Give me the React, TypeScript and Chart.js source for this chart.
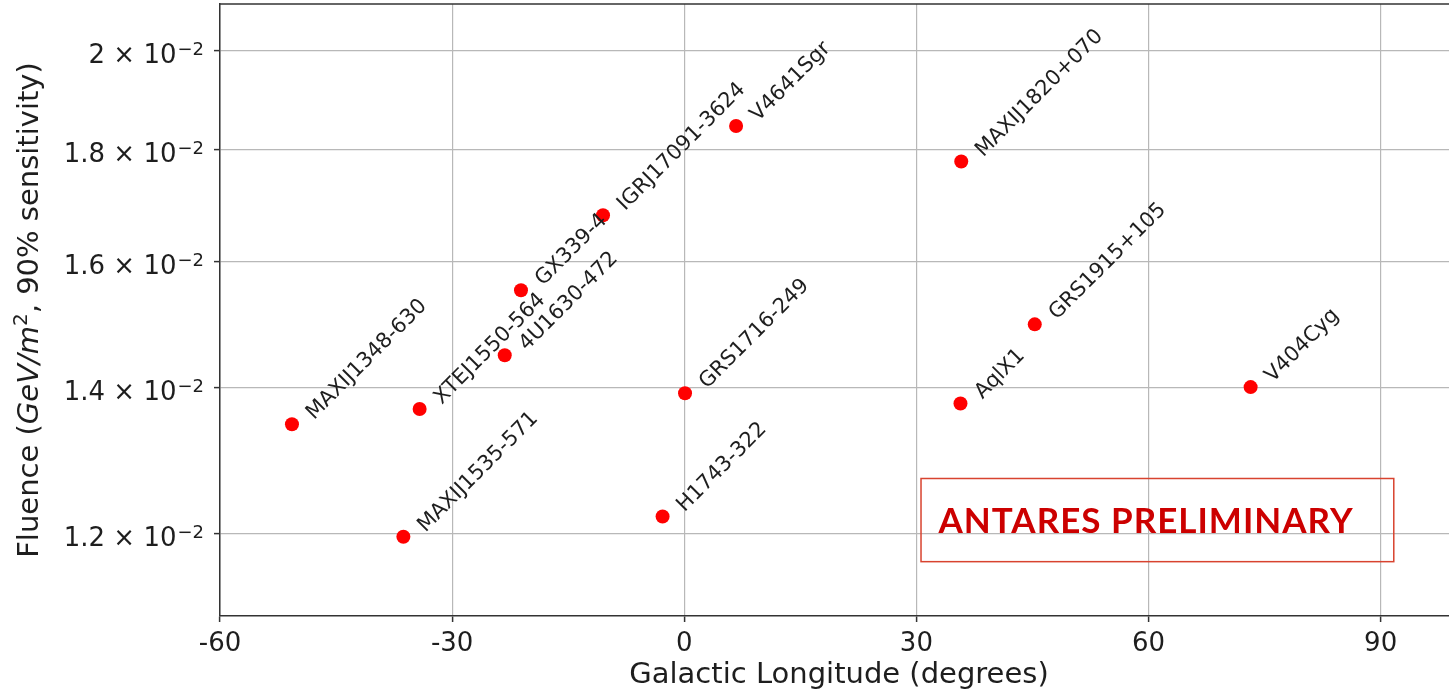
import React, { useEffect, useRef } from "react";
import { Chart, registerables } from "chart.js";

Chart.register(...registerables);

// X-ray binary sources: galactic longitude (deg) and 90% sensitivity fluence (GeV/m^2)
const sources = [
  "MAXIJ1348-630",
  "XTEJ1550-564",
  "MAXIJ1535-571",
  "4U1630-472",
  "GX339-4",
  "IGRJ17091-3624",
  "V4641Sgr",
  "GRS1716-249",
  "H1743-322",
  "MAXIJ1820+070",
  "AqlX1",
  "GRS1915+105",
  "V404Cyg",
];
const longitudes = [-50.7, -34.2, -36.3, -23.2, -21.1, -10.5, 6.7, 0.1, -2.8, 35.8, 35.7, 45.3, 73.2];
const fluences = [0.01347, 0.01369, 0.01196, 0.01449, 0.01552, 0.0168, 0.01846, 0.01392, 0.01222, 0.01778, 0.01377, 0.01497, 0.01401];

const xTicks = [-60, -30, 0, 30, 60, 90];
const yTicks = [0.012, 0.014, 0.016, 0.018, 0.02];
// mantissa part and exponent part of each y tick label
const yTickMantissas = ["1.2 × 10", "1.4 × 10", "1.6 × 10", "1.8 × 10", "2 × 10"];
const yTickExponents = ["−2", "−2", "−2", "−2", "−2"];

const FONT = "'DejaVu Sans'";
const INK = "#1e1e1e";
const SPINE = "#333333";

// Rotated name next to each source marker
const sourceLabels = {
  id: "sourceLabels",
  afterDatasetsDraw(chart: any) {
    const { ctx } = chart;
    const meta = chart.getDatasetMeta(0);
    ctx.save();
    ctx.font = `21px ${FONT}`;
    ctx.fillStyle = INK;
    ctx.textBaseline = "alphabetic";
    ctx.textAlign = "left";
    meta.data.forEach((pt: any, i: number) => {
      ctx.save();
      ctx.translate(pt.x + 22, pt.y - 4);
      ctx.rotate(-Math.PI / 4);
      ctx.fillText(sources[i], 0, 0);
      ctx.restore();
    });
    ctx.restore();
  },
};

// y tick labels with a raised exponent
const yTickText = {
  id: "yTickText",
  afterDraw(chart: any) {
    const { ctx } = chart;
    const s = chart.scales.y;
    const right = s.right - 16;
    ctx.save();
    ctx.fillStyle = INK;
    ctx.textBaseline = "alphabetic";
    ctx.textAlign = "left";
    yTicks.forEach((v, i) => {
      const y = s.getPixelForValue(v);
      ctx.font = `18px ${FONT}`;
      const wSup = ctx.measureText(yTickExponents[i]).width;
      ctx.font = `26px ${FONT}`;
      const wMain = ctx.measureText(yTickMantissas[i]).width;
      ctx.fillText(yTickMantissas[i], right - wSup - wMain - 1, y + 12.5);
      ctx.font = `18px ${FONT}`;
      ctx.fillText(yTickExponents[i], right - wSup, y + 4.5);
    });
    ctx.restore();
  },
};

// Top spine, y-axis title with italic units, and the preliminary stamp
const decorations = {
  id: "decorations",
  afterDraw(chart: any) {
    const { ctx, chartArea, scales } = chart;
    ctx.save();

    // top spine
    ctx.strokeStyle = SPINE;
    ctx.lineWidth = 1.5;
    ctx.beginPath();
    ctx.moveTo(chartArea.left, chartArea.top);
    ctx.lineTo(chartArea.right, chartArea.top);
    ctx.stroke();

    // y-axis title
    const segs = [
      { t: "Fluence (", f: `29px ${FONT}`, dy: 0 },
      { t: "GeV/m", f: `italic 29px ${FONT}`, dy: 0 },
      { t: "2", f: `20px ${FONT}`, dy: -11 },
      { t: ", 90% sensitivity)", f: `29px ${FONT}`, dy: 0 },
    ];
    let total = 0;
    const widths = segs.map((s) => {
      ctx.font = s.f;
      const w = ctx.measureText(s.t).width;
      total += w;
      return w;
    });
    ctx.save();
    ctx.translate(38, (chartArea.top + chartArea.bottom) / 2);
    ctx.rotate(-Math.PI / 2);
    ctx.fillStyle = INK;
    ctx.textBaseline = "alphabetic";
    let cx = -total / 2;
    segs.forEach((s, i) => {
      ctx.font = s.f;
      ctx.fillText(s.t, cx, s.dy);
      cx += widths[i];
    });
    ctx.restore();

    // ANTARES PRELIMINARY stamp
    const x0 = scales.x.getPixelForValue(30.6);
    const x1 = scales.x.getPixelForValue(91.7);
    const y0 = scales.y.getPixelForValue(0.01272);
    const y1 = scales.y.getPixelForValue(0.01165);
    ctx.strokeStyle = "#d8432f";
    ctx.lineWidth = 1.5;
    ctx.strokeRect(x0, y0, x1 - x0, y1 - y0);
    ctx.fillStyle = "#cc0000";
    ctx.font = `bold 35px Lato`;
    (ctx as any).letterSpacing = "1px";
    ctx.textBaseline = "alphabetic";
    ctx.textAlign = "left";
    ctx.fillText("ANTARES PRELIMINARY", x0 + 17.5, (y0 + y1) / 2 + 12.5);

    ctx.restore();
  },
};

export default function App() {
  const canvasRef = useRef<HTMLCanvasElement | null>(null);

  useEffect(() => {
    const canvas = canvasRef.current;
    if (!canvas) return;
    const chart = new Chart(canvas, {
      type: "scatter",
      data: {
        datasets: [
          {
            data: longitudes.map((x, i) => ({ x, y: fluences[i] })),
            backgroundColor: "#ff0000",
            borderWidth: 0,
            pointRadius: 7,
            pointHoverRadius: 7,
          },
        ],
      },
      options: {
        animation: false,
        responsive: false,
        devicePixelRatio: 1,
        events: [],
        layout: { autoPadding: false, padding: { top: 4, left: 0, right: 0, bottom: 0 } },
        plugins: {
          legend: { display: false },
          tooltip: { enabled: false },
        },
        scales: {
          x: {
            type: "linear",
            min: -60,
            max: 100,
            afterBuildTicks: (s: any) => {
              s.ticks = xTicks.map((v) => ({ value: v }));
            },
            afterFit: (s: any) => {
              s.height = 78;
              s.paddingLeft = 0;
              s.paddingRight = 0;
            },
            grid: {
              color: "#b8b8b8",
              lineWidth: 1.2,
              drawTicks: true,
              tickLength: 6,
              tickColor: SPINE,
              tickWidth: 1.5,
            },
            border: { display: true, color: SPINE, width: 1.5 },
            ticks: {
              color: INK,
              font: { family: FONT, size: 26 },
              padding: 7,
              maxRotation: 0,
              autoSkip: false,
              callback: (v: any) => String(v),
            },
            title: {
              display: true,
              text: "Galactic Longitude (degrees)",
              color: INK,
              font: { family: FONT, size: 29 },
              padding: { top: 0, bottom: 1 },
            },
          },
          y: {
            type: "logarithmic",
            min: 0.011,
            max: 0.021,
            afterBuildTicks: (s: any) => {
              s.ticks = yTicks.map((v) => ({ value: v }));
            },
            afterFit: (s: any) => {
              s.width = 220;
              s.paddingTop = 0;
              s.paddingBottom = 0;
            },
            grid: {
              color: "#b8b8b8",
              lineWidth: 1.2,
              drawTicks: true,
              tickLength: 6,
              tickColor: SPINE,
              tickWidth: 1.5,
            },
            border: { display: true, color: SPINE, width: 1.5 },
            ticks: {
              color: "rgba(0,0,0,0)",
              font: { family: FONT, size: 26 },
              padding: 10,
              autoSkip: false,
              callback: (_v: any, i: number) => `${yTickMantissas[i]}${yTickExponents[i]}`,
            },
            title: { display: false },
          },
        },
      },
      plugins: [sourceLabels, yTickText, decorations],
    });
    return () => chart.destroy();
  }, []);

  return (
    <div
      style={{
        position: "fixed",
        left: 0,
        top: 0,
        width: 1449,
        height: 694,
        overflow: "hidden",
        background: "#ffffff",
      }}
    >
      <canvas ref={canvasRef} width={1458} height={694} style={{ width: 1458, height: 694, display: "block" }} />
    </div>
  );
}
